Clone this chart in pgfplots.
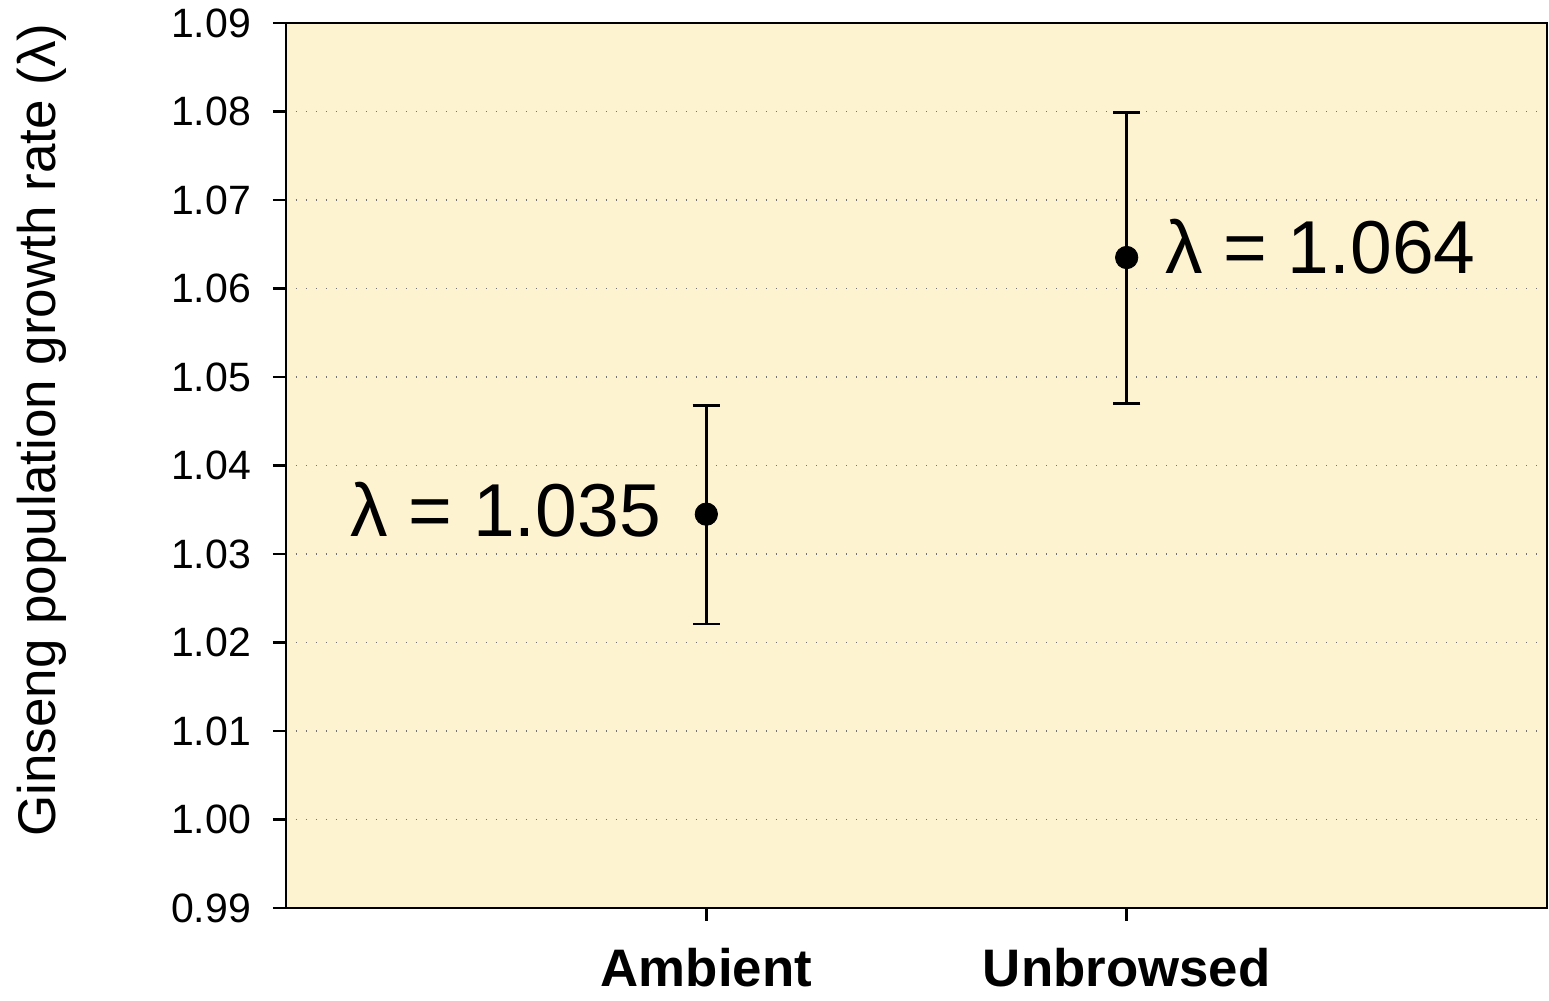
\documentclass[border=0pt]{standalone}
\usepackage{pgfplots}
\pgfplotsset{compat=1.18}
\usepackage{pgfplotstable}
\usepackage{fontspec}
\setmainfont{Liberation Sans}
\definecolor{bgc}{RGB}{253,243,209}
\pgfplotstableread{
x y ep em
1 1.0345 0.0123 0.0124
2 1.0635 0.0164 0.0165
}\datatab
\begin{document}
\begin{tikzpicture}
\begin{axis}[
  at={(0,0)}, anchor=south west,
  scale only axis, width=630.5pt, height=442.5pt,
  xmin=0, xmax=3, ymin=0.99, ymax=1.09,
  xtick={1,2}, xticklabels={Ambient,Unbrowsed},
  ytick={0.99,1.00,1.01,1.02,1.03,1.04,1.05,1.06,1.07,1.08,1.09},
  xtick pos=bottom, ytick pos=left,
  axis background/.style={fill=bgc},
  axis line style={line width=1.3pt},
  tick style={line width=1.3pt, black},
  tick align=outside, major tick length=6.5pt,
  ymajorgrids,
  major grid style={black!55, line width=0.7pt, dash pattern=on 0.7pt off 4.3pt},
  yticklabel style={font=\fontsize{20.5}{24}\selectfont, xshift=-7.5pt, /pgf/number format/.cd, fixed, fixed zerofill, precision=2, assume math mode=true},
  xticklabel style={font=\fontsize{26.4}{30}\selectfont\bfseries, anchor=base, yshift=-33pt},
  clip=false,
]
\addplot[only marks, mark=*, mark size=5.6pt, black,
  error bars/.cd, y dir=both, y explicit,
  error bar style={line width=1.3pt, black},
  error mark options={line width=1.3pt, mark size=6.8pt, black, rotate=90}]
  table[x=x, y=y, y error plus=ep, y error minus=em] {\datatab};
\node[anchor=base west, inner sep=0pt, font=\fontsize{37.5}{44}\selectfont, xshift=19pt, yshift=-7.8pt] at (axis cs:2,1.0635) {λ = 1.064};
\node[anchor=base east, inner sep=0pt, font=\fontsize{37.5}{44}\selectfont, xshift=-22.5pt, yshift=-11.2pt] at (axis cs:1,1.0345) {λ = 1.035};
\end{axis}
\node[rotate=90, anchor=base, inner sep=0pt, font=\fontsize{26.5}{30}\selectfont] at (-115pt,239pt) {Ginseng population growth rate (λ)};
\pgfresetboundingbox
\useasboundingbox (-143pt,-46.5pt) rectangle (631.5pt,454pt);
\end{tikzpicture}
\end{document}
